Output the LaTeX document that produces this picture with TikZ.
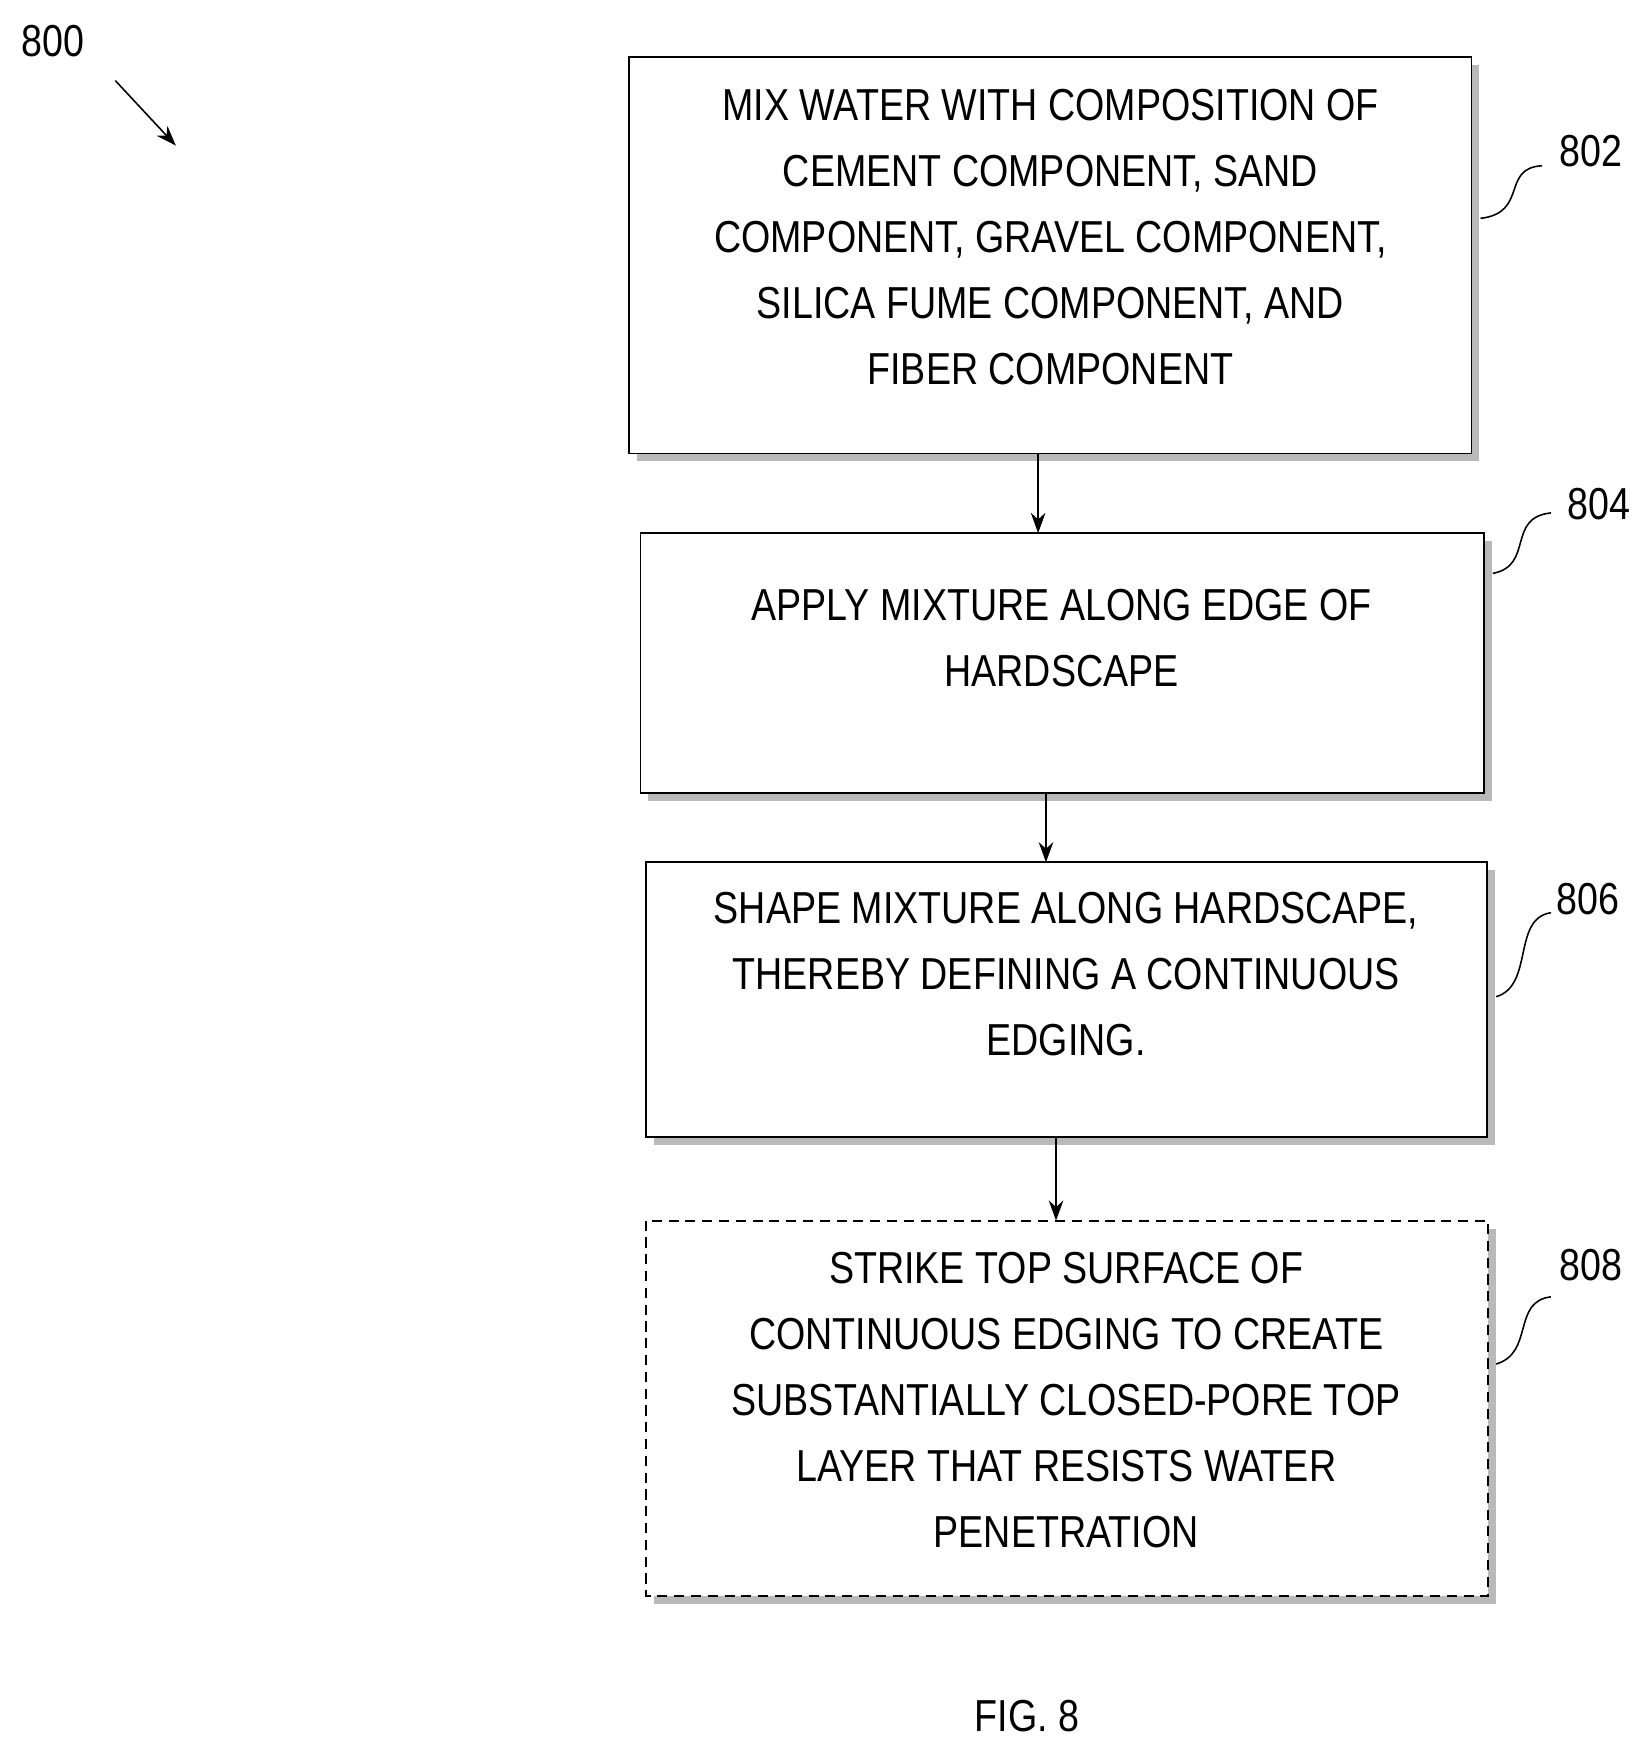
\documentclass[tikz,border=0pt]{standalone}
\usepackage{fontspec}
\usetikzlibrary{arrows.meta}
\setmainfont{Liberation Sans}[FakeStretch=0.84]
\begin{document}
\begin{tikzpicture}[x=1pt,y=-1pt,
  txt/.style={font=\fontsize{40}{59}\selectfont,align=center},
  bx/.style={draw,line width=1.6pt,fill=white},
  sh/.style={fill=gray!55},
  arr/.style={line width=1.6pt,-{Stealth[length=18pt,width=13pt]}},
  lead/.style={line width=1.4pt}]
\useasboundingbox (0,0) rectangle (1470,1560);
% shadows
\fill[sh] (569,58) rectangle (1321,412);
\fill[sh] (579,483) rectangle (1332,715);
\fill[sh] (584,777) rectangle (1335,1022);
\fill[sh] (584,1097) rectangle (1336,1432);
% boxes
\draw[bx] (562,51) rectangle (1314,405);
\draw[bx] (572,476) rectangle (1325,708);
\draw[bx] (577,770) rectangle (1328,1015);
\draw[bx,dashed,dash pattern=on 9pt off 6pt] (577,1090) rectangle (1329,1425);
\node[txt] (b802) at (938,212) {MIX WATER WITH COMPOSITION OF\\CEMENT COMPONENT, SAND\\COMPONENT, GRAVEL COMPONENT,\\SILICA FUME COMPONENT, AND\\FIBER COMPONENT};
\node[txt] (b804) at (948,570) {APPLY MIXTURE ALONG EDGE OF\\HARDSCAPE};
\node[txt] (b806) at (952,870) {SHAPE MIXTURE ALONG HARDSCAPE,\\THEREBY DEFINING A CONTINUOUS\\EDGING.};
\node[txt] (b808) at (952,1250) {STRIKE TOP SURFACE OF\\CONTINUOUS EDGING TO CREATE\\SUBSTANTIALLY CLOSED-PORE TOP\\LAYER THAT RESISTS WATER\\PENETRATION};
\coordinate (a1) at (927,405); \coordinate (a2) at (927,476);
\coordinate (c1) at (934,708); \coordinate (c2) at (934,770);
\coordinate (d1) at (943,1015); \coordinate (d2) at (943,1090);
\draw[arr] (a1) -- (a2);
\draw[arr] (c1) -- (c2);
\draw[arr] (d1) -- (d2);
\node[txt] (l802) at (1421,135) {802};
\node[txt] (l804) at (1428,450) {804};
\node[txt] (l806) at (1418,803) {806};
\node[txt] (l808) at (1421,1130) {808};
\draw[lead] (1322,195) .. controls (1365,190) and (1340,150) .. (1377,148);
\draw[lead] (1333,512) .. controls (1370,505) and (1345,462) .. (1385,458);
\draw[lead] (1336,890) .. controls (1370,880) and (1350,820) .. (1385,815);
\draw[lead] (1336,1218) .. controls (1370,1208) and (1350,1162) .. (1385,1158);
\node[txt] (l800) at (47,37) {800};
\coordinate (p1) at (103,72); \coordinate (p2) at (157,130);
\draw[arr,line width=1.4pt] (p1) -- (p2);
\node[txt] (fig) at (917,1532) {FIG. 8};
\end{tikzpicture}
\end{document}
